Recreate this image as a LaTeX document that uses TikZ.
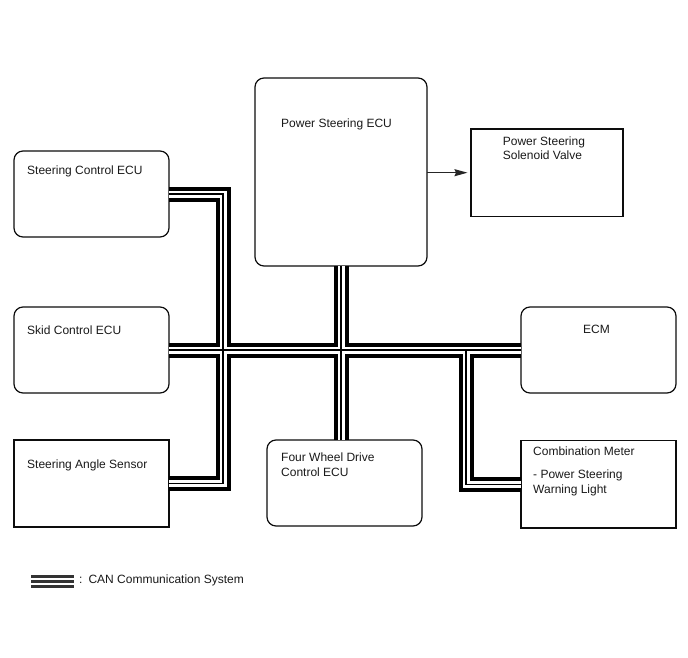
\documentclass[tikz,border=0pt]{standalone}
\usepackage{fontspec}
\setmainfont{Liberation Sans}
\usetikzlibrary{arrows.meta}

\begin{document}
\begin{tikzpicture}[x=1pt, y=-1pt, >={Stealth[length=13pt, width=7pt, inset=1.5pt]},
    font=\fontsize{12}{15}\selectfont]
    \tikzstyle{ecu} = [draw=black!95, line width=1.2pt, rounded corners=9pt,
	inner sep=0pt, outer sep=0pt]
    \tikzstyle{unit} = [draw=black!95, line width=1.2pt, inner sep=0pt, outer sep=0pt]
    \tikzstyle{txt} = [anchor=north west, align=left, inner sep=0pt, text=black!90]
    \tikzstyle{can} = [line width=15pt, black, line join=miter,
	postaction={draw, white, line width=7pt, line join=miter},
	postaction={draw, black, line width=1.4pt, line join=miter}]
    \tikzstyle{keybar} = [line width=3pt, black!80]

    \useasboundingbox (0,0) rectangle (688,658);

    % boxes
    \node[ecu, minimum width=172pt, minimum height=188pt] (ps) at (341,172) {};
    \node[unit, minimum width=152pt, minimum height=87.5pt] (sv) at (547,172.7) {};
    \node[ecu, minimum width=155pt, minimum height=86pt] (sc) at (91.5,194) {};
    \node[ecu, minimum width=155pt, minimum height=86pt] (skid) at (91.5,350) {};
    \node[ecu, minimum width=155pt, minimum height=86pt] (ecm) at (598.5,350) {};
    \node[unit, minimum width=155pt, minimum height=87pt] (sas) at (91.5,483.5) {};
    \node[ecu, minimum width=155pt, minimum height=86pt] (fw) at (344.5,483) {};
    \node[unit, minimum width=155pt, minimum height=87.5pt] (cm) at (598.5,484.2) {};

    % labels
    \node[txt] (pstxt) at ([xshift=26pt, yshift=-40.4pt]ps.north west) {Power Steering ECU};
    \node[txt] (svtxt) at ([xshift=31.7pt, yshift=-7.4pt]sv.north west) {Power Steering\\[-1pt]Solenoid Valve};
    \node[txt] (sctxt) at ([xshift=13pt, yshift=-14.4pt]sc.north west) {Steering Control ECU};
    \node[txt] (skidtxt) at ([xshift=13pt, yshift=-18.4pt]skid.north west) {Skid Control ECU};
    \node[txt] (ecmtxt) at ([xshift=62pt, yshift=-18.4pt]ecm.north west) {ECM};
    \node[txt] (sastxt) at ([xshift=13pt, yshift=-19.4pt]sas.north west) {Steering Angle Sensor};
    \node[txt] (fwtxt) at ([xshift=14pt, yshift=-12.4pt]fw.north west) {Four Wheel Drive\\Control ECU};
    \node[txt] (cmtxt) at ([xshift=12pt, yshift=-5.9pt]cm.north west) {Combination Meter\\[8pt]- Power Steering\\Warning Light};

    % CAN bus
    \coordinate (jl) at (223,350);
    \coordinate (jr) at (466,350);
    \draw[can] (sc.east) -| (jl) |- (sas.east)
	(skid.east) -- (ecm.west)
	(ps.south) -- (ps.south |- fw.north)
	(jr) |- (cm.west);

    \draw[->, line width=1.4pt, black!85, shorten >=3.5pt] (ps.east |- sv.west) -- (sv.west);

    % key
    \coordinate (key) at (31,581);
    \foreach \dy in {-5,0,5}
	\draw[keybar] ([yshift=\dy pt]key) -- ++(43,0);
    \node[anchor=base west, inner sep=0pt, text=black!90] (keytxt) at (79,583) {:\enspace CAN Communication System};

\end{tikzpicture}
\end{document}
